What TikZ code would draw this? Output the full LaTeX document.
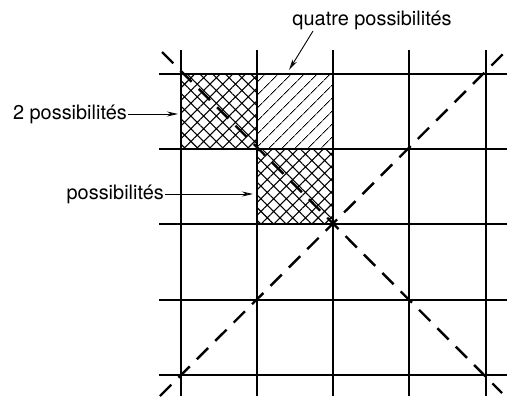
\documentclass[tikz,border=0pt]{standalone}
\usepackage{fontspec}
\setmainfont{TeX Gyre Heros}
\usetikzlibrary{patterns.meta,arrows.meta}
\tikzset{
  gridline/.style={line width=1.1bp, black},
  diag/.style={line width=2.4bp, dash pattern=on 16bp off 10bp},
  cross/.style={pattern={Hatch[angle=45,distance=9bp,line width=1.1bp]}},
  single/.style={pattern={Lines[angle=45,distance=10bp,line width=0.9bp]}},
  lbl/.style={font=\fontsize{20}{24}\selectfont, inner sep=1bp},
  pointer/.style={line width=0.9bp, -{Stealth[length=11bp,width=5bp,fill=gray!60]}}
}
\begin{document}
\begin{tikzpicture}[x=1bp,y=-1bp]
\useasboundingbox (0,0) rectangle (507,396);
% grid coordinates
\coordinate (c11) at (181,74);
\coordinate (c21) at (257,74);
\coordinate (c31) at (333,74);
\coordinate (c12) at (181,149);
\coordinate (c22) at (257,149);
\coordinate (c32) at (333,149);
\coordinate (c23) at (257,224);
\coordinate (c33) at (333,224);
% hatched cells
\fill[cross] (c11) rectangle (c22);
\fill[single] (c21) rectangle (c32);
\fill[cross] (c22) rectangle (c33);
% grid
\foreach \x in {181,257,333,409,486}
  \draw[gridline] (\x,50) -- (\x,396);
\foreach \y in {74,149,224,300,375}
  \draw[gridline] (159,\y) -- (507,\y);
% diagonals
\coordinate (d1a) at (162,52);
\coordinate (d1b) at (502,393);
\coordinate (d2a) at (160,396);
\coordinate (d2b) at (507,50);
\draw[diag] (d1a) -- (d1b);
\draw[diag] (d2a) -- (d2b);
% labels
\node[lbl, anchor=base] (q) at (372,25) {quatre possibilités};
\node[lbl, anchor=base east] (p2) at (128,119) {2 possibilités};
\node[lbl, anchor=base east] (p1) at (165,199) {possibilités};
\coordinate (qt) at (289,70);
\coordinate (p2t) at (178,114);
\coordinate (p1t) at (253,194);
\draw[pointer] (313,31) -- (qt);
\draw[pointer] (p2.east |- p2t) -- (p2t);
\draw[pointer] (p1.east |- p1t) -- (p1t);
\end{tikzpicture}
\end{document}
